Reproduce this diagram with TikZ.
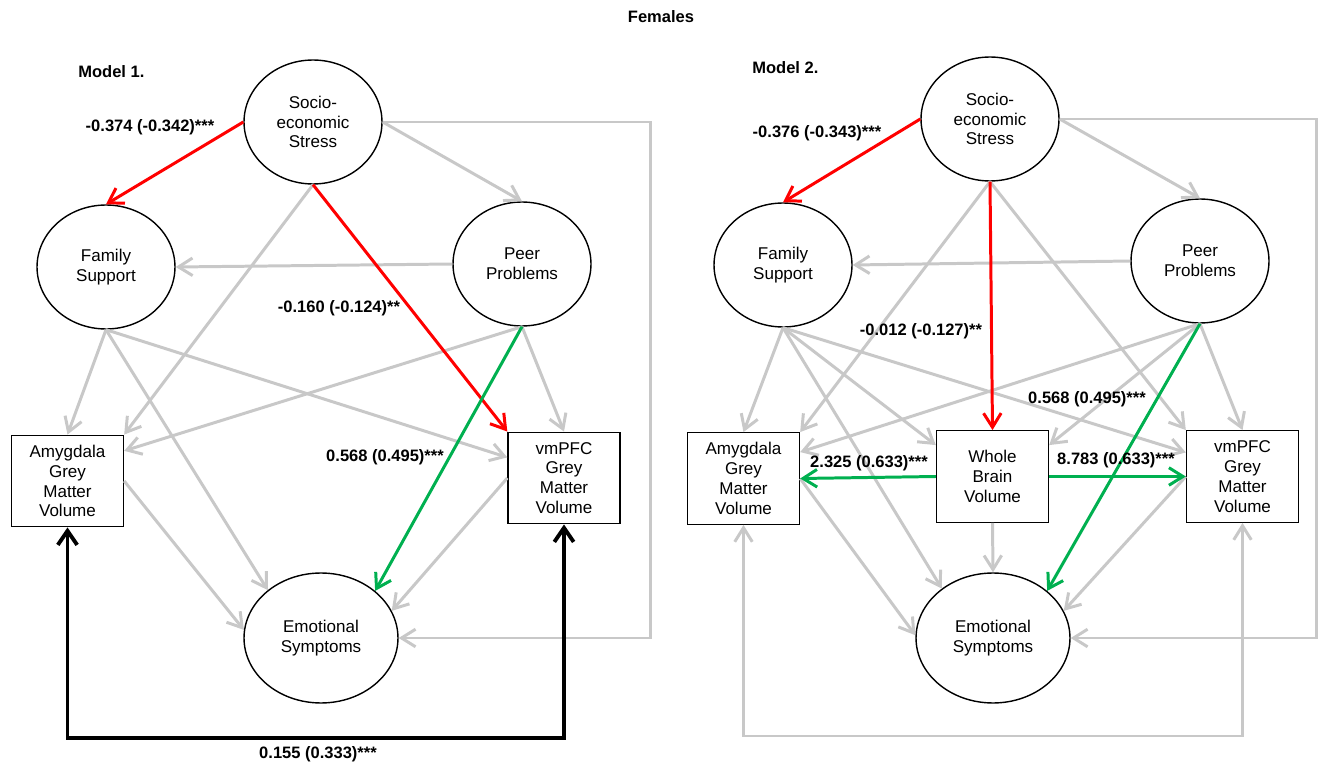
\documentclass[tikz,border=0pt]{standalone}
\usepackage{fontspec}
\setmainfont{Liberation Sans}
\usetikzlibrary{shapes.geometric,arrows.meta}
\definecolor{lg}{RGB}{200,200,200}
\definecolor{rd}{RGB}{255,0,0}
\definecolor{gn}{RGB}{0,176,80}
\begin{document}
\begin{tikzpicture}[x=0.02cm,y=-0.02cm,
  nodefont/.style={font=\fontsize{9.7}{11.3}\selectfont},
  ell/.style={ellipse,draw,line width=0.8pt,minimum width=2.76cm,minimum height=2.48cm,inner sep=0pt,align=center,nodefont},
  bigell/.style={ell,minimum width=3.08cm,minimum height=2.6cm},
  box/.style={rectangle,draw,line width=0.8pt,minimum width=2.24cm,minimum height=1.83cm,inner sep=0pt,align=center,nodefont},
  lab/.style={inner sep=0pt,font=\fontsize{9.4}{11}\selectfont\bfseries},
  tip/.style={-{Straight Barb[length=8pt,width=10pt]}},
  garr/.style={draw=lg,line width=1.7pt,tip},
  rarr/.style={draw=rd,line width=1.7pt,tip},
  gnarr/.style={draw=gn,line width=1.7pt,tip},
  barr/.style={draw=black,line width=2.2pt,{Straight Barb[length=8pt,width=11pt]}-{Straight Barb[length=8pt,width=11pt]}},
  glarr/.style={draw=lg,line width=1.7pt,{Straight Barb[length=8pt,width=10pt]}-{Straight Barb[length=8pt,width=10pt]}}
]
\useasboundingbox (0,0) rectangle (1322,763);
\node[lab] (title) at (661,17) {Females};

% ---------------- Model 1 ----------------
\node[lab,anchor=west] (m1) at (78,72) {Model 1.};
\node[ell] (soc) at (313,122) {Socio-\\economic\\Stress};
\node[ell] (fam) at (106,267) {Family\\Support};
\node[ell] (peer) at (522,264) {Peer\\Problems};
\node[box] (amy) at (67.5,481) {Amygdala\\Grey\\Matter\\Volume};
\node[box] (vm) at (564,478) {vmPFC\\Grey\\Matter\\Volume};
\node[bigell] (emo) at (321,638) {Emotional\\Symptoms};
\coordinate (r1) at (650,0);
\coordinate (b1) at (0,738);

\draw[garr] (soc.east) -- (peer.north);
\draw[garr] (peer.west) -- (fam.east);
\draw[garr] (soc.south) -- (amy.north east);
\draw[garr] (fam.south) -- (amy.north);
\draw[garr] (fam.south) -- (emo.138);
\draw[garr] (fam.south) -- (vm.160);
\draw[garr] (peer.south) -- (amy.28);
\draw[garr] (peer.south) -- (vm.north);
\draw[garr] (amy.east) -- (emo.174);
\draw[garr] (vm.west) -- (emo.21);
\draw[garr] (soc.east) -- (soc.east -| r1) |- (emo.east);

\draw[rarr] (soc.west) -- (fam.north);
\draw[rarr] (soc.south) -- (vm.north west);
\draw[gnarr] (peer.south) -- (emo.41);
\draw[barr] (amy.south) -- (amy.south |- b1) -| (vm.south);

\node[lab] (l1a) at (150,127) {-0.374 (-0.342)***};
\node[lab] (l1b) at (339,308) {-0.160 (-0.124)**};
\node[lab] (l1c) at (385,457) {0.568 (0.495)***};
\node[lab] (l1d) at (318,754) {0.155 (0.333)***};

% ---------------- Model 2 ----------------
\node[lab,anchor=west] (m2) at (752,68) {Model 2.};
\node[ell] (soc2) at (990,119) {Socio-\\economic\\Stress};
\node[ell] (fam2) at (783,265) {Family\\Support};
\node[ell] (peer2) at (1200,261) {Peer\\Problems};
\node[box] (amy2) at (743.5,478.5) {Amygdala\\Grey\\Matter\\Volume};
\node[box] (wb) at (992.5,476.5) {Whole\\Brain\\Volume};
\node[box] (vm2) at (1242.5,476.5) {vmPFC\\Grey\\Matter\\Volume};
\node[bigell] (emo2) at (993,638) {Emotional\\Symptoms};
\coordinate (r2) at (1316,0);
\coordinate (b2) at (0,736);

\draw[garr] (soc2.east) -- (peer2.north);
\draw[garr] (peer2.west) -- (fam2.east);
\draw[garr] (soc2.south) -- (amy2.north east);
\draw[garr] (soc2.south) -- (vm2.north west);
\draw[garr] (fam2.south) -- (amy2.north);
\draw[garr] (fam2.south) -- (wb.151);
\draw[garr] (fam2.south) -- (emo2.136);
\draw[garr] (fam2.south) -- (vm2.157);
\draw[garr] (peer2.south) -- (amy2.25);
\draw[garr] (peer2.south) -- (wb.29);
\draw[garr] (peer2.south) -- (vm2.north);
\draw[garr] (wb.south) -- (emo2.north);
\draw[garr] (amy2.east) -- (emo2.178);
\draw[garr] (vm2.west) -- (emo2.21);
\draw[garr] (soc2.east) -- (soc2.east -| r2) |- (emo2.east);
\draw[glarr] (amy2.south) -- (amy2.south |- b2) -| (vm2.south);

\draw[rarr] (soc2.west) -- (fam2.north);
\draw[rarr] (soc2.south) -- (wb.north);
\draw[gnarr] (peer2.south) -- (emo2.41);
\draw[gnarr] (wb.west) -- (amy2.east);
\draw[gnarr] (wb.east) -- (vm2.west);

\node[lab] (l2a) at (817,133) {-0.376 (-0.343)***};
\node[lab] (l2b) at (921,331) {-0.012 (-0.127)**};
\node[lab] (l2c) at (1087,399) {0.568 (0.495)***};
\node[lab] (l2d) at (869,463) {2.325 (0.633)***};
\node[lab] (l2e) at (1116,460) {8.783 (0.633)***};
\end{tikzpicture}
\end{document}
